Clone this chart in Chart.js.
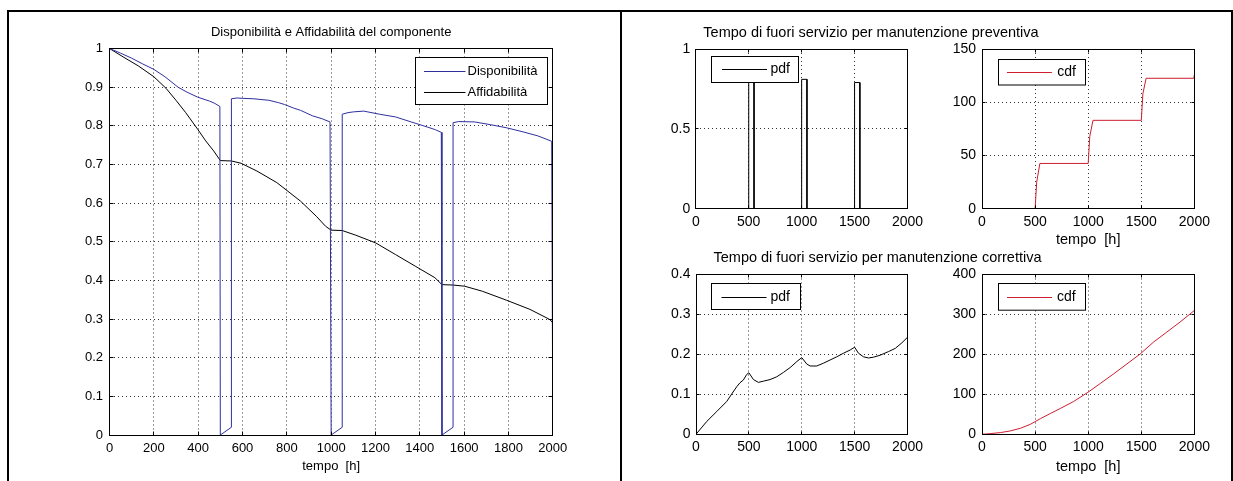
<!DOCTYPE html>
<html>
<head>
<meta charset="utf-8">
<script src="https://cdn.jsdelivr.net/npm/chart.js@4.4.1/dist/chart.umd.min.js"></script>
<style>
html,body{margin:0;padding:0;background:#fff;width:1233px;height:481px;overflow:hidden;position:relative;}
.frame{position:absolute;background:#000;}
canvas{position:absolute;}
</style>
</head>
<body>
<div class="frame" style="left:7px;top:10px;width:1226px;height:2px"></div>
<div class="frame" style="left:7px;top:10px;width:2px;height:471px"></div>
<div class="frame" style="left:620px;top:10px;width:2px;height:471px"></div>
<div class="frame" style="left:1231px;top:10px;width:2px;height:471px"></div>
<canvas id="cLeft"></canvas>
<canvas id="cTL"></canvas>
<canvas id="cTR"></canvas>
<canvas id="cBL"></canvas>
<canvas id="cBR"></canvas>
<script>
// ---------------- DATA ----------------
// Left: Disponibilità (availability)
const availT = [0, 50, 100, 150, 200, 250, 309, 350, 398, 451, 475, 498, 500, 550, 550, 576, 600, 648, 719, 762, 790, 830, 862, 915, 960, 995, 1000, 1050, 1050, 1076, 1100, 1147, 1218, 1290, 1361, 1433, 1470, 1497, 1500, 1550, 1550, 1575, 1647, 1718, 1790, 1861, 1932, 1995, 2000];
const availV = [1, 0.988, 0.975, 0.96, 0.946, 0.927, 0.90, 0.887, 0.874, 0.864, 0.858, 0.85, 0, 0.02, 0.87, 0.872, 0.871, 0.870, 0.866, 0.86, 0.855, 0.846, 0.84, 0.826, 0.818, 0.81, 0, 0.02, 0.83, 0.834, 0.836, 0.838, 0.830, 0.823, 0.810, 0.797, 0.79, 0.783, 0, 0.02, 0.808, 0.811, 0.810, 0.803, 0.795, 0.785, 0.774, 0.76, 0];
// Left: Affidabilità (reliability)
const reliabT = [0, 65, 130, 200, 255, 300, 344, 398, 434, 470, 500, 550, 594, 665, 755, 862, 933, 975, 1000, 1050, 1111, 1201, 1290, 1379, 1468, 1500, 1550, 1602, 1682, 1790, 1897, 1986, 2000];
const reliabV = [1, 0.977, 0.955, 0.927, 0.897, 0.866, 0.834, 0.791, 0.761, 0.735, 0.71, 0.709, 0.703, 0.683, 0.653, 0.605, 0.566, 0.54, 0.53, 0.529, 0.517, 0.497, 0.467, 0.437, 0.407, 0.389, 0.388, 0.385, 0.372, 0.349, 0.325, 0.299, 0.29];
const leftXTicks = [0, 200, 400, 600, 800, 1000, 1200, 1400, 1600, 1800, 2000];
const leftYTicks = [0, 0.1, 0.2, 0.3, 0.4, 0.5, 0.6, 0.7, 0.8, 0.9, 1];
const leftYLabels = ['0', '0.1', '0.2', '0.3', '0.4', '0.5', '0.6', '0.7', '0.8', '0.9', '1'];

// Right: preventive maintenance downtime
const prevPdfT = [0, 500, 500, 550, 550, 1000, 1000, 1050, 1050, 1500, 1500, 1550, 1550, 2000, 2000];
const prevPdfV = [0, 0, 0.8, 0.8, 0, 0, 0.81, 0.81, 0, 0, 0.79, 0.79, 0, 0, 0.76];
const prevCdfT = [0, 500, 515, 545, 1000, 1015, 1045, 1500, 1515, 1545, 1995, 2000];
const prevCdfV = [0, 0, 25, 42.5, 42.5, 68, 83, 83, 108, 122.5, 122.5, 126];
// Right: corrective maintenance downtime
const corrPdfT = [0, 101, 196, 290, 338, 385, 416, 448, 480, 500, 543, 590, 637, 700, 764, 827, 890, 953, 1000, 1047, 1079, 1142, 1205, 1268, 1331, 1395, 1458, 1500, 1536, 1584, 1631, 1678, 1742, 1820, 1884, 1947, 2000];
const corrPdfV = [0, 0.032, 0.057, 0.082, 0.101, 0.119, 0.129, 0.136, 0.150, 0.154, 0.137, 0.130, 0.133, 0.137, 0.144, 0.155, 0.167, 0.182, 0.192, 0.176, 0.171, 0.171, 0.178, 0.186, 0.194, 0.203, 0.211, 0.218, 0.203, 0.194, 0.191, 0.193, 0.198, 0.207, 0.215, 0.229, 0.243];
const corrCdfT = [0, 78, 172, 266, 361, 455, 549, 643, 737, 862, 997, 1113, 1238, 1364, 1489, 1614, 1740, 1865, 2000];
const corrCdfV = [0, 1.7, 4.2, 8.4, 15, 25, 39, 52, 64.6, 82, 105, 127, 151, 176, 201, 230.6, 255.8, 281, 310];

const rightXTicks = [0, 500, 1000, 1500, 2000];
const prevPdfYTicks = [0, 0.5, 1];
const prevPdfYLabels = ['0', '0.5', '1'];
const prevCdfYTicks = [0, 50, 100, 150];
const prevCdfYLabels = ['0', '50', '100', '150'];
const corrPdfYTicks = [0, 0.1, 0.2, 0.3, 0.4];
const corrPdfYLabels = ['0', '0.1', '0.2', '0.3', '0.4'];
const corrCdfYTicks = [0, 100, 200, 300, 400];
const corrCdfYLabels = ['0', '100', '200', '300', '400'];

// ---------------- RENDERING ----------------
const FAM = "'Liberation Sans', Arial, Helvetica, sans-serif";
const BLUE = '#2f2f9e', RED = '#cc1f2f', BLACK = '#000';

function pts(t, v) { return t.map((x, i) => ({x: x, y: v[i]})); }
function align(p) { return Math.round(p - 0.5) + 0.5; }

const axesBox = {
  id: 'axesBox',
  afterDatasetsDraw(chart, args, o) {
    const {ctx, chartArea: a} = chart;
    const xs = chart.scales.x, ys = chart.scales.y;
    const L = align(a.left), R = align(a.right), T = align(a.top), B = align(a.bottom);
    const tl = o.tick || 3;
    ctx.save();
    ctx.setLineDash([]);
    ctx.strokeStyle = '#000';
    ctx.lineWidth = 1;
    ctx.beginPath();
    xs.ticks.forEach(t => {
      const px = align(xs.getPixelForValue(t.value));
      ctx.moveTo(px, B); ctx.lineTo(px, B - tl);
      ctx.moveTo(px, T); ctx.lineTo(px, T + tl);
    });
    ys.ticks.forEach(t => {
      const py = align(ys.getPixelForValue(t.value));
      ctx.moveTo(L, py); ctx.lineTo(L + tl, py);
      ctx.moveTo(R, py); ctx.lineTo(R - tl, py);
    });
    ctx.stroke();
    ctx.strokeRect(L, T, R - L, B - T);
    ctx.restore();
  }
};

const boxLegend = {
  id: 'boxLegend',
  afterDraw(chart, args, o) {
    if (!o || !o.w) return;
    const {ctx, chartArea: a} = chart;
    const x0 = Math.round(a.left + o.x) + 0.5, y0 = Math.round(a.top + o.y) + 0.5;
    ctx.save();
    ctx.setLineDash([]);
    ctx.fillStyle = '#fff';
    ctx.fillRect(x0, y0, o.w, o.h);
    ctx.strokeStyle = '#000';
    ctx.lineWidth = 1;
    ctx.strokeRect(x0, y0, o.w, o.h);
    ctx.font = o.size + 'px ' + FAM;
    ctx.textBaseline = 'middle';
    ctx.textAlign = 'left';
    chart.data.datasets.forEach((ds, i) => {
      const ry = o.rows[i];
      const yy = Math.round(y0 + ry) + 0.5;
      ctx.strokeStyle = ds.borderColor;
      ctx.beginPath();
      ctx.moveTo(x0 + o.x1, yy); ctx.lineTo(x0 + o.x2, yy);
      ctx.stroke();
      ctx.fillStyle = '#000';
      ctx.fillText(ds.label, x0 + o.tx, yy);
    });
    ctx.restore();
  }
};

function makeChart(spec) {
  const cv = document.getElementById(spec.id);
  cv.width = spec.cw; cv.height = spec.ch;
  cv.style.left = spec.cx + 'px'; cv.style.top = spec.cy + 'px';
  cv.style.width = spec.cw + 'px'; cv.style.height = spec.ch + 'px';
  const fs = spec.fs;
  const font = {family: FAM, size: fs, weight: 'normal', lineHeight: 1.2};
  const tfont = {family: FAM, size: spec.tfs, weight: 'normal', lineHeight: 1.2};
  const scales = {
    x: {
      type: 'linear', min: 0, max: 2000,
      afterBuildTicks: s => { s.ticks = spec.xTicks.map(v => ({value: v})); },
      ticks: {callback: v => String(v), font: font, color: '#000', padding: spec.xPad, maxRotation: 0, autoSkip: false},
      grid: {color: '#333', lineWidth: 1, drawTicks: false},
      border: {display: false, dash: [1, 3]},
      title: spec.xTitle ? {display: true, text: 'tempo  [h]', font: tfont, color: '#000', padding: {top: 0, bottom: spec.xTitlePad}} : {display: false},
      afterFit: s => { s.height = spec.xH; }
    },
    y: {
      type: 'linear', position: 'left', min: spec.yTicks[0], max: spec.yTicks[spec.yTicks.length - 1],
      afterBuildTicks: s => { s.ticks = spec.yTicks.map(v => ({value: v})); },
      ticks: {callback: (v, i) => spec.yLabels[i], font: font, color: '#000', padding: spec.yPad},
      grid: {color: '#333', lineWidth: 1, drawTicks: false},
      border: {display: false, dash: [1, 3]},
      afterFit: s => { s.width = spec.yW; }
    }
  };
  if (spec.dummyR) {
    scales.yR = {
      type: 'linear', position: 'right', display: true,
      ticks: {display: false}, grid: {display: false, drawTicks: false}, border: {display: false},
      afterFit: s => { s.width = spec.dummyR; }
    };
  }
  return new Chart(cv, {
    type: 'line',
    data: {datasets: spec.datasets.map(d => ({
      label: d.label, data: d.data, borderColor: d.color, backgroundColor: d.color,
      borderWidth: 1, pointRadius: 0, tension: 0, fill: false, yAxisID: 'y', xAxisID: 'x'
    }))},
    options: {
      responsive: false, maintainAspectRatio: false, animation: false, devicePixelRatio: 1,
      events: [],
      layout: {padding: spec.pad},
      scales: scales,
      plugins: {
        legend: {display: false},
        tooltip: {enabled: false},
        title: spec.title ? {display: true, text: spec.title, font: tfont, color: '#000', fullSize: spec.titleFull,
          padding: {top: spec.titlePad[0], bottom: spec.titlePad[1]}} : {display: false},
        axesBox: {tick: spec.tick},
        boxLegend: spec.legend
      }
    },
    plugins: [axesBox, boxLegend]
  });
}

// Left chart
makeChart({
  id: 'cLeft', cx: 9, cy: 13, cw: 610, ch: 468, fs: 13, tfs: 13,
  pad: {left: 0, top: 0, right: 66.2, bottom: 0},
  title: 'Disponibilità e Affidabilità del componente', titleFull: false, titlePad: [11.5, 8.4],
  xTicks: leftXTicks, yTicks: leftYTicks, yLabels: leftYLabels,
  xPad: 5.2, xH: 46, xTitle: true, xTitlePad: 7.2, yPad: 6.5, yW: 100.5, tick: 4,
  legend: {x: 305.5, y: 8.2, w: 132, h: 47, rows: [13.5, 34], x1: 8.5, x2: 50, tx: 52, size: 13},
  datasets: [
    {label: 'Disponibilità', data: pts(availT, availV), color: BLUE},
    {label: 'Affidabilità', data: pts(reliabT, reliabV), color: BLACK}
  ]
});

// Top-left: preventive pdf
makeChart({
  id: 'cTL', cx: 623, cy: 13, cw: 496, ch: 232, fs: 14, tfs: 14.5,
  pad: {left: 0, top: 0, right: 0, bottom: 0}, dummyR: 211.5,
  title: 'Tempo di fuori servizio per manutenzione preventiva', titleFull: true, titlePad: [11.6, 7.0],
  xTicks: rightXTicks, yTicks: prevPdfYTicks, yLabels: prevPdfYLabels,
  xPad: 4.6, xH: 36.3, xTitle: false, yPad: 5.5, yW: 72.8, tick: 3,
  legend: {x: 15.2, y: 6.7, w: 87, h: 26, rows: [12.6], x1: 10.5, x2: 55.5, tx: 59, size: 14},
  datasets: [{label: 'pdf', data: pts(prevPdfT, prevPdfV), color: BLACK}]
});

// Top-right: preventive cdf
makeChart({
  id: 'cTR', cx: 930, cy: 13, cw: 299, ch: 237, fs: 14, tfs: 14.5,
  pad: {left: 0, top: 36, right: 34.6, bottom: 0},
  title: null,
  xTicks: rightXTicks, yTicks: prevCdfYTicks, yLabels: prevCdfYLabels,
  xPad: 4.6, xH: 41.3, xTitle: true, xTitlePad: 1.0, yPad: 6, yW: 52, tick: 3,
  legend: {x: 16.3, y: 10.3, w: 87, h: 25.5, rows: [12.4], x1: 8.4, x2: 53.4, tx: 58.7, size: 14},
  datasets: [{label: 'cdf', data: pts(prevCdfT, prevCdfV), color: RED}]
});

// Bottom-left: corrective pdf
makeChart({
  id: 'cBL', cx: 623, cy: 237, cw: 509, ch: 244, fs: 14, tfs: 14.5,
  pad: {left: 0, top: 0, right: 0, bottom: 0}, dummyR: 224.5,
  title: 'Tempo di fuori servizio per manutenzione correttiva', titleFull: true, titlePad: [12.6, 7.5],
  xTicks: rightXTicks, yTicks: corrPdfYTicks, yLabels: corrPdfYLabels,
  xPad: 4.6, xH: 46.7, xTitle: false, yPad: 5.5, yW: 73, tick: 3,
  legend: {x: 15, y: 8.2, w: 89, h: 26, rows: [13.3], x1: 10, x2: 55, tx: 59, size: 14},
  datasets: [{label: 'pdf', data: pts(corrPdfT, corrPdfV), color: BLACK}]
});

// Bottom-right: corrective cdf
makeChart({
  id: 'cBR', cx: 930, cy: 237, cw: 299, ch: 244, fs: 14, tfs: 14.5,
  pad: {left: 0, top: 37.5, right: 34.6, bottom: 0},
  title: null,
  xTicks: rightXTicks, yTicks: corrCdfYTicks, yLabels: corrCdfYLabels,
  xPad: 4.6, xH: 46.7, xTitle: true, xTitlePad: 5.3, yPad: 6, yW: 52, tick: 3,
  legend: {x: 16, y: 8.8, w: 87, h: 26.7, rows: [13.4], x1: 8.5, x2: 53.5, tx: 58.5, size: 14},
  datasets: [{label: 'cdf', data: pts(corrCdfT, corrCdfV), color: RED}]
});
</script>
</body>
</html>
